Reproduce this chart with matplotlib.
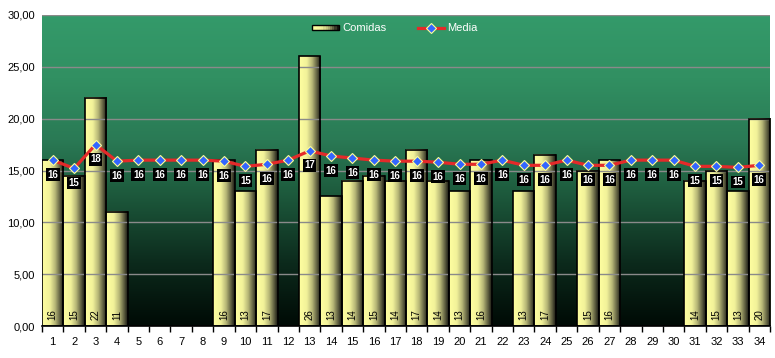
import numpy as np
import matplotlib
matplotlib.use("Agg")
import matplotlib.pyplot as plt
from matplotlib.colors import LinearSegmentedColormap
from matplotlib.legend_handler import HandlerBase
from matplotlib.patches import Rectangle
from matplotlib.lines import Line2D

plt.rcParams['font.family'] = ['Liberation Sans', 'DejaVu Sans']

categories = [str(i) for i in range(1, 35)]
comidas = [16, 14.5, 22, 11, np.nan, np.nan, np.nan, np.nan, 16, 13,
           17, np.nan, 26, 12.5, 14, 14.5, 14, 17, 14, 13,
           16, np.nan, 13, 16.5, np.nan, 15, 16, np.nan, np.nan, np.nan,
           14, 15, 13, 20]
media = [16.0, 15.2, 17.5, 15.9, 16.0, 16.0, 16.0, 16.0, 15.9, 15.4,
         15.6, 16.0, 16.9, 16.4, 16.2, 16.0, 15.9, 15.9, 15.8, 15.6,
         15.6, 16.0, 15.5, 15.5, 16.0, 15.5, 15.5, 16.0, 16.0, 16.0,
         15.4, 15.4, 15.3, 15.5]
yticks = [0, 5, 10, 15, 20, 25, 30]

def excel_round(v):
    return int(np.floor(v + 0.5 + 1e-9))

fig = plt.figure(figsize=(7.75, 3.58), dpi=100)
ax = fig.add_axes([42/775, 32/358, 728/775, 311/358])

x = np.arange(len(categories))

# background gradient
bg_cmap = LinearSegmentedColormap.from_list('bg', [
    (0.0, '#000a05'), (0.2, '#0c2a1c'), (0.45, '#1f5f40'),
    (0.6, '#2a7a55'), (0.8, '#319062'), (1.0, '#349a6a')])
grad = np.linspace(0, 1, 256).reshape(-1, 1)
ax.imshow(grad, cmap=bg_cmap, aspect='auto', origin='lower',
          extent=[-0.5, len(x) - 0.5, 0, 30], zorder=0)

ax.set_xlim(-0.5, len(x) - 0.5)
ax.set_ylim(0, 30)
ax.set_yticks(yticks)
ax.set_yticklabels([f"{v:.2f}".replace('.', ',') for v in yticks], fontsize=8)
ax.yaxis.grid(True, color='#8a8a8a', linewidth=1.0, zorder=1)
ax.set_axisbelow(False)

# bars
bar_cmap = LinearSegmentedColormap.from_list('bar', [
    (0.0, '#ffffa0'), (0.35, '#f2f29a'), (0.6, '#b8b878'),
    (0.85, '#55553a'), (1.0, '#151510')])
hgrad = np.linspace(0, 1, 128).reshape(1, -1)
vals = np.nan_to_num(np.array(comidas, dtype=float))
bars = ax.bar(x, vals, width=1.0, facecolor='none', edgecolor='black',
              linewidth=1.2, zorder=3, label='Comidas')
for b, v in zip(bars, comidas):
    if np.isnan(v):
        continue
    ax.imshow(hgrad, cmap=bar_cmap, aspect='auto',
              extent=[b.get_x(), b.get_x() + b.get_width(), 0, b.get_height()],
              zorder=2)
    ax.annotate(str(excel_round(v)), (b.get_x() + b.get_width() / 2, 0),
                xytext=(0, 4), textcoords='offset points', rotation=90,
                ha='center', va='bottom', fontsize=7, color='black', zorder=6)

# media line
ax.plot(x, media, color='#e42a2a', linewidth=2.3, marker='D', markersize=4.8,
        markerfacecolor='#3366ff', markeredgecolor='#ffff99',
        markeredgewidth=0.8, zorder=5, label='Media')
for xi, m in zip(x, media):
    ax.annotate(str(excel_round(m)), (xi, m), xytext=(0, -10.5),
                textcoords='offset points', ha='center', va='center',
                fontsize=7, color='white', fontweight='bold', zorder=7,
                bbox=dict(boxstyle='square,pad=0.15', facecolor='black',
                          edgecolor='none'))

# x axis
ax.set_xticks(x)
ax.set_xticklabels(categories, fontsize=8)
ax.tick_params(axis='x', which='major', length=0, pad=8)
ax.set_xticks(np.arange(-0.5, len(x), 1.0), minor=True)
ax.tick_params(axis='x', which='minor', length=4, width=1, color='black',
               direction='out')
ax.tick_params(axis='y', length=0, pad=5)
for s in ['left', 'right', 'top']:
    ax.spines[s].set_visible(False)
ax.spines['bottom'].set_color('black')
ax.spines['bottom'].set_linewidth(1.2)
ax.spines['bottom'].set_zorder(8)


class GradientHandler(HandlerBase):
    def create_artists(self, legend, orig_handle, xdescent, ydescent,
                       width, height, fontsize, trans):
        n = 12
        artists = []
        cols = bar_cmap(np.linspace(0, 1, n))
        w = width / n
        for i in range(n):
            r = Rectangle((-xdescent + i * w, -ydescent + height * 0.15), w,
                          height * 0.7, facecolor=cols[i], edgecolor='none',
                          transform=trans)
            artists.append(r)
        artists.append(Rectangle((-xdescent, -ydescent + height * 0.15), width,
                                 height * 0.7, facecolor='none',
                                 edgecolor='black', linewidth=1.0,
                                 transform=trans))
        return artists

bar_handle = Rectangle((0, 0), 1, 1)
line_handle = Line2D([], [], color='#e42a2a', linewidth=2.3, marker='D',
                     markersize=4.8, markerfacecolor='#3366ff',
                     markeredgecolor='#ffff99', markeredgewidth=0.8)
leg = ax.legend([bar_handle, line_handle], ['Comidas', 'Media'],
                handler_map={Rectangle: GradientHandler()},
                loc='upper center', bbox_to_anchor=(0.485, 1.005), ncol=2,
                frameon=False, fontsize=8, labelcolor='white',
                handlelength=2.4, handletextpad=0.3, columnspacing=2.8)
leg.set_zorder(10)

fig.savefig('out.png', dpi=100)
